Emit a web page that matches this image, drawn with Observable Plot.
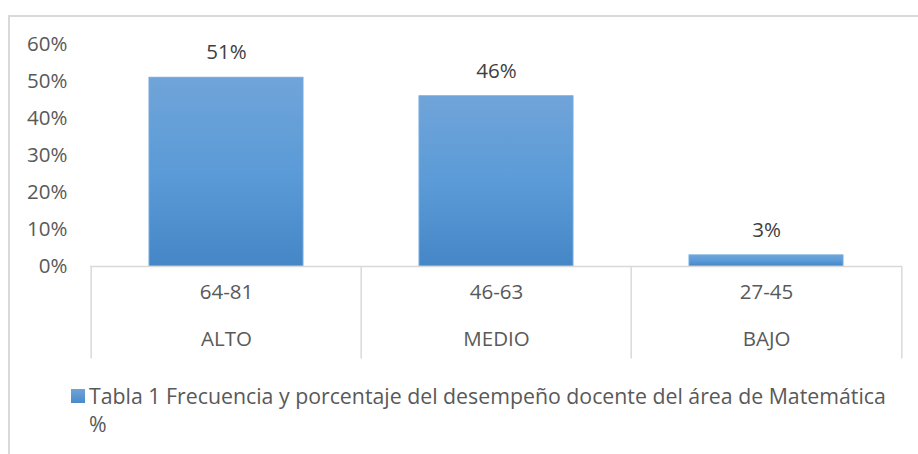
<!DOCTYPE html>
<html>
<head>
<meta charset="utf-8">
<script src="https://cdn.jsdelivr.net/npm/d3@7"></script>
<script src="https://cdn.jsdelivr.net/npm/@observablehq/plot@0.6"></script>
<style>
  body { margin: 0; background: #fff; width: 918px; height: 454px; overflow: hidden; position: relative; font-family: "Open Sans", sans-serif; }
  #frame { position: absolute; left: 8px; top: 15px; width: 920px; height: 450px; border-top: 2px solid #d9d9d9; border-left: 2px solid #d9d9d9; }
  #chart { position: absolute; left: 0; top: 0; }
  #legend { position: absolute; left: 71px; top: 382px; display: flex; align-items: flex-start; color: #595959; font-size: 21.3px; line-height: 28px; }
  #legend .sw { width: 14px; height: 14px; background: linear-gradient(#6fa3d8, #4a8ac9); margin-top: 7px; margin-right: 4px; flex: none; }
</style>
</head>
<body>
<div id="frame"></div>
<div id="chart"></div>
<div id="legend"><div class="sw"></div><div class="txt">Tabla 1 Frecuencia y porcentaje del desempeño docente del área de Matemática<br>%</div></div>
<script>
const levels = ["ALTO", "MEDIO", "BAJO"];
const ranges = ["64-81", "46-63", "27-45"];
const values = [0.51, 0.46, 0.03];
const yTicks = [0, 0.1, 0.2, 0.3, 0.4, 0.5, 0.6];

const data = levels.map((level, i) => ({level, range: ranges[i], value: values[i]}));

const W = 918, H = 370, ML = 90, MR = 16, MT = 44, MB = 104;
const bw = (W - ML - MR) / levels.length;
const pct = d3.format(".0%");
const gridColor = "#d9d9d9";
const FS = 20.5;

const defs = () => {
  const svg = d3.create("svg:defs");
  const g = svg.append("linearGradient").attr("id", "barGrad").attr("x1", 0).attr("y1", 0).attr("x2", 0).attr("y2", 1);
  g.append("stop").attr("offset", "0%").attr("stop-color", "#70a4d9");
  g.append("stop").attr("offset", "50%").attr("stop-color", "#5b9bd7");
  g.append("stop").attr("offset", "100%").attr("stop-color", "#4586c7");
  return svg.node();
};

const chart = Plot.plot({
  width: W,
  height: H,
  marginLeft: ML,
  marginRight: MR,
  marginTop: MT,
  marginBottom: MB,
  style: { fontFamily: "'Open Sans', sans-serif", fontSize: FS + "px", color: "#595959", background: "transparent", overflow: "visible" },
  x: { domain: levels, padding: 0, axis: null },
  y: { domain: [0, 0.6], ticks: yTicks, tickFormat: pct, tickSize: 0, tickPadding: 23, label: null },
  marks: [
    defs,
    Plot.barY(data, { x: "level", y: "value", fill: "url(#barGrad)", stroke: "#73a9dd", strokeWidth: 1, insetLeft: 58, insetRight: 58 }),
    Plot.ruleY([0], { stroke: gridColor, strokeWidth: 1.5 }),
    Plot.ruleX(levels, { x: d => d, y1: 0, y2: -0.25, dx: -bw / 2, stroke: gridColor, strokeWidth: 1.5 }),
    Plot.ruleX(levels.slice(-1), { x: d => d, y1: 0, y2: -0.25, dx: bw / 2, stroke: gridColor, strokeWidth: 1.5 }),
    Plot.text(data, { x: "level", y: "value", text: d => pct(d.value), dy: -25, fill: "#404040", fontSize: FS }),
    Plot.text(data, { x: "level", text: "range", frameAnchor: "bottom", dy: 32, fill: "#595959", fontSize: FS }),
    Plot.text(data, { x: "level", text: "level", frameAnchor: "bottom", dy: 79, fill: "#595959", fontSize: FS })
  ]
});
document.getElementById("chart").appendChild(chart);
</script>
</body>
</html>
